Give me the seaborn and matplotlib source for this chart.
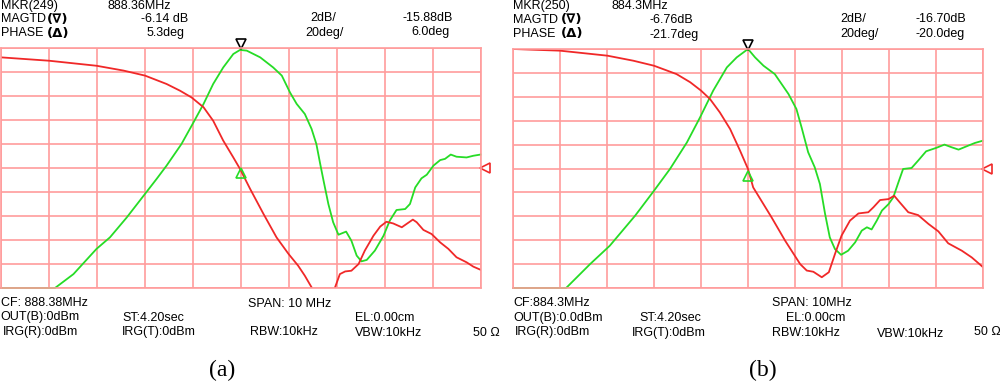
import numpy as np
import pandas as pd
import seaborn as sns
import matplotlib.pyplot as plt

# x and y in screen divisions (10 x 10 grid)
mag_a_x = [0, 1.0, 1.125, 1.51, 1.99, 2.27, 2.62, 3.0, 3.24, 3.45, 3.76, 4.01, 4.22, 4.42, 4.63,
           4.84, 4.98, 5.12, 5.40, 5.67, 5.85, 6.02, 6.16, 6.33, 6.47, 6.57, 6.65, 6.72, 6.82,
           6.92, 7.03, 7.19, 7.3, 7.41, 7.51, 7.62, 7.79, 7.97, 8.1, 8.24, 8.42, 8.52, 8.63,
           8.76, 8.87, 9.01, 9.15, 9.25, 9.37, 9.49, 9.70, 9.84, 9.99]
mag_a_y = [0, 0, 0, 0.58, 1.63, 2.11, 2.94, 3.92, 4.54, 5.10, 6.0, 6.90, 7.67, 8.5, 9.19,
           9.75, 9.92, 9.89, 9.61, 9.19, 8.85, 8.15, 7.67, 7.25, 6.63, 6.0, 5.17, 4.47, 3.5,
           2.74, 2.22, 2.35, 1.97, 1.35, 1.11, 1.17, 1.56, 2.18, 2.81, 3.25, 3.29, 3.5, 4.19,
           4.57, 4.72, 5.1, 5.33, 5.38, 5.56, 5.47, 5.44, 5.51, 5.56]
phase_a_x = [0, 1.0, 1.99, 2.55, 3.0, 3.45, 3.73, 3.97, 4.22, 4.42, 4.63, 4.84, 4.98, 5.19, 5.47,
             5.74, 5.99, 6.19, 6.33, 6.47, 6.55, 6.9, 6.96, 7.06, 7.17, 7.3, 7.45, 7.58, 7.76,
             7.9, 8.03, 8.17, 8.35, 8.45, 8.58, 8.66, 8.8, 8.97, 9.15, 9.32, 9.49, 9.70, 9.84,
             9.99]
phase_a_y = [9.61, 9.47, 9.26, 9.06, 8.85, 8.5, 8.22, 7.94, 7.53, 6.97, 6.14, 5.44, 4.96, 4.13,
             3.08, 2.11, 1.42, 0.93, 0.51, 0.03, -0.6, -0.6, 0.03, 0.58, 0.69, 0.72, 1.0, 1.56,
             2.18, 2.56, 2.76, 2.69, 2.53, 2.67, 2.85, 2.74, 2.42, 2.25, 1.90, 1.63, 1.28, 1.07,
             0.89, 0.76]

mag_b_x = [0, 1.0, 1.13, 1.64, 2.06, 2.6, 3.0, 3.34, 3.70, 3.98, 4.26, 4.55, 4.76, 5.0, 5.15,
           5.33, 5.57, 5.86, 6.03, 6.14, 6.28, 6.42, 6.53, 6.64, 6.74, 6.85, 6.98, 7.13, 7.28,
           7.42, 7.53, 7.63, 7.74, 7.85, 7.99, 8.09, 8.2, 8.30, 8.48, 8.62, 8.79, 9.0, 9.18,
           9.33, 9.48, 9.69, 9.83, 9.99]
mag_b_y = [0, 0, 0, 1.0, 1.77, 3.03, 4.07, 4.98, 6.09, 7.14, 8.26, 9.23, 9.65, 10.0, 9.65,
           9.30, 8.95, 8.12, 7.49, 6.72, 5.68, 5.05, 4.35, 3.10, 2.12, 1.63, 1.39, 1.56, 1.91,
           2.40, 2.54, 2.45, 2.82, 3.24, 3.51, 3.79, 4.42, 4.98, 5.02, 5.33, 5.72, 5.86, 6.0,
           5.89, 5.79, 5.96, 6.07, 6.16]
phase_b_x = [0, 1.0, 2.01, 2.56, 3.0, 3.48, 3.77, 4.0, 4.19, 4.40, 4.62, 4.83, 5.0, 5.11, 5.5,
             5.79, 6.11, 6.25, 6.39, 6.57, 6.72, 6.85, 6.99, 7.17, 7.35, 7.56, 7.67, 7.81, 7.99,
             8.11, 8.23, 8.41, 8.62, 8.84, 9.05, 9.26, 9.55, 9.76, 9.99]
phase_b_y = [10.0, 9.93, 9.72, 9.51, 9.30, 8.95, 8.61, 8.26, 7.91, 7.35, 6.65, 5.75, 4.98, 4.21,
             2.96, 1.98, 1.0, 0.73, 0.68, 0.45, 0.66, 1.42, 2.19, 2.82, 3.12, 3.17, 3.38, 3.68,
             3.72, 3.86, 3.58, 3.17, 3.05, 2.68, 2.37, 1.87, 1.56, 1.28, 0.89]

# marker readings: (x, y) of ∇ on magnitude, Δ on phase, reference ◁
mkr_a = {"mag": (5.0, 10.17), "phase": (5.0, 4.8), "ref": (10.08, 5.0)}
mkr_b = {"mag": (5.0, 10.17), "phase": (5.0, 4.7), "ref": (10.09, 5.0)}

GRID = "#ff9c9c"
RED = "#f02828"
GREEN = "#26dc26"

plt.rcParams["font.family"] = ["Liberation Sans", "DejaVu Sans"]
fig = plt.figure(figsize=(10, 3.84), dpi=100)


def px(x, y):
    return x / 1000, 1 - y / 384


def panel(rect, mx, my, phx, phy, mk):
    ax = fig.add_axes(rect)
    df = pd.concat([
        pd.DataFrame({"x": mx, "y": my, "trace": "mag"}),
        pd.DataFrame({"x": phx, "y": phy, "trace": "phase"}),
    ])
    sns.lineplot(data=df, x="x", y="y", hue="trace", palette={"mag": GREEN, "phase": RED},
                 estimator=None, sort=False, linewidth=1.3, legend=False, ax=ax)
    ax.lines[0].set_clip_on(False)
    for ln in ax.lines:
        ln.set_solid_joinstyle("round")
    ax.set_xlim(0, 10)
    ax.set_ylim(0, 10)
    ax.set_xticks(np.arange(11))
    ax.set_yticks(np.arange(11))
    ax.grid(True, color=GRID, linewidth=1.2)
    ax.set_axisbelow(True)
    ax.tick_params(length=0, labelbottom=False, labelleft=False)
    for s in ax.spines.values():
        s.set_color(GRID)
        s.set_linewidth(1.2)
    ax.set_xlabel("")
    ax.set_ylabel("")
    ax.plot(*mk["mag"], marker="v", ms=7, mfc="none", mec="black", mew=1.2, clip_on=False)
    ax.plot(*mk["phase"], marker="^", ms=7, mfc="none", mec=GREEN, mew=1.2, clip_on=False)
    ax.plot(*mk["ref"], marker="<", ms=7, mfc="none", mec=RED, mew=1.2, clip_on=False)
    return ax


panel([1 / 1000, 1 - 288 / 384, 480 / 1000, 240 / 384], mag_a_x, mag_a_y, phase_a_x, phase_a_y, mkr_a)
panel([513 / 1000, 1 - 288 / 384, 470 / 1000, 239 / 384], mag_b_x, mag_b_y, phase_b_x, phase_b_y, mkr_b)

fs = 9
texts = [
    # panel (a) header
    (1, 6, "MKR(249)", "left"), (107, 6, "888.36MHz", "left"),
    (1, 19, "MAGTD", "left"), (165, 19, "-6.14 dB", "center"),
    (323, 18, "2dB/", "center"), (428, 18, "-15.88dB", "center"),
    (1, 33, "PHASE", "left"), (166, 33, "5.3deg", "center"),
    (325, 33, "20deg/", "center"), (431, 32, "6.0deg", "center"),
    # panel (a) footer
    (1, 303, "CF: 888.38MHz", "left"), (248, 304, "SPAN: 10 MHz", "left"),
    (0, 317, "OUT(B):0dBm", "left"), (122, 318, "ST:4.20sec", "left"),
    (355, 318, "EL:0.00cm", "left"),
    (3, 332, "IRG(R):0dBm", "left"), (122, 332, "IRG(T):0dBm", "left"),
    (250, 332, "RBW:10kHz", "left"), (355, 333, "VBW:10kHz", "left"),
    (473, 333, "50 Ω", "left"),
    # panel (b) header
    (513, 6, "MKR(250)", "left"), (611, 6, "884.3MHz", "left"),
    (513, 20, "MAGTD", "left"), (650, 20, "-6.76dB", "left"),
    (840, 19, "2dB/", "left"), (915, 19, "-16.70dB", "left"),
    (513, 34, "PHASE", "left"), (650, 35, "-21.7deg", "left"),
    (840, 34, "20deg/", "left"), (915, 34, "-20.0deg", "left"),
    # panel (b) footer
    (513, 303, "CF:884.3MHz", "left"), (772, 303, "SPAN: 10MHz", "left"),
    (513, 318, "OUT(B):0.0dBm", "left"), (701, 318, "ST:4.20sec", "right"),
    (845, 318, "EL:0.00cm", "right"),
    (515, 332, "IRG(R):0dBm", "left"), (632, 333, "IRG(T):0dBm", "left"),
    (772, 333, "RBW:10kHz", "left"), (877, 334, "VBW:10kHz", "left"),
    (974, 332, "50 Ω", "left"),
]
for x, y, s, ha in texts:
    fig.text(*px(x, y), s, ha=ha, va="center", fontsize=fs, color="black")

# bold marker symbols after MAGTD / PHASE
for x, y, s in [(47, 19, "(∇)"), (47, 33, "(Δ)"), (561, 20, "(∇)"), (561, 34, "(Δ)")]:
    fig.text(*px(x, y), s, ha="left", va="center", fontsize=fs + 0.5, fontweight="bold",
             family=["DejaVu Sans"])

fig.text(*px(222, 370), "(a)", ha="center", va="center", fontsize=17, family="Liberation Serif")
fig.text(*px(763, 370), "(b)", ha="center", va="center", fontsize=17, family="Liberation Serif")

fig.savefig("out.png", dpi=100, facecolor="white")
